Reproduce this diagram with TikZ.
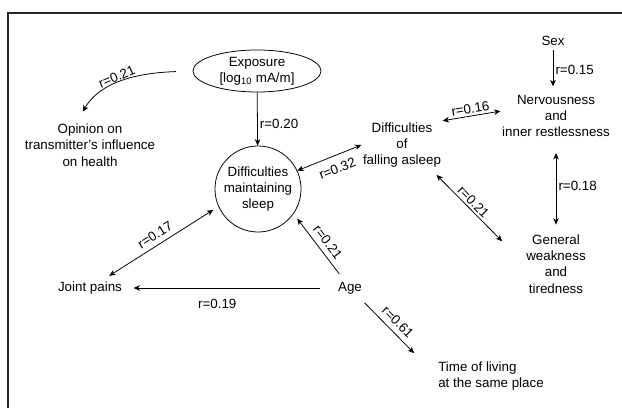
\documentclass[tikz,border=0pt]{standalone}
\usepackage{fontspec}
\setmainfont{Liberation Sans}
\usetikzlibrary{shapes.geometric,arrows.meta,positioning}
\tikzset{
  var text/.style={align=center, inner sep=1pt, font=\fontsize{9.5}{11.6}\selectfont},
  var circle/.style={circle, draw, line width=0.55pt, align=center, minimum size=2.15cm, inner sep=0pt, font=\fontsize{9.5}{11.6}\selectfont},
  var ellipse/.style={ellipse, draw, line width=0.55pt, align=center, minimum width=3.2cm, minimum height=1.05cm, inner sep=0pt, font=\fontsize{9.5}{11.6}\selectfont},
  corr/.style={-{Stealth[length=4.5pt,width=4pt,inset=1.3pt]}, line width=0.55pt},
  corr both/.style={{Stealth[length=4.5pt,width=4pt,inset=1.3pt]}-{Stealth[length=4.5pt,width=4pt,inset=1.3pt]}, line width=0.55pt},
  r value/.style={inner sep=1.5pt, font=\fontsize{9.5}{11.6}\selectfont}
}

\begin{document}
\begin{tikzpicture}[x=0.025cm, y=0.025cm]
    \useasboundingbox (0,0) rectangle (622,408);
    \draw [line width=0.9pt, black!85] (8,0) -- (8,395) -- (622,395);

    % variables
    \node [var ellipse] (expo) at (257,337) {Exposure\\{[}log\textsubscript{10} mA/m{]}};
    \node [var circle] (sleep) at (258,219) {Difficulties\\maintaining\\sleep};
    \node [var text] (opin) at (90,263) {Opinion on\\transmitter's influence\\on health};
    \node [var text] (fall) at (402,263) {Difficulties\\of\\falling asleep};
    \node [var text] (sex) at (553,367) {Sex};
    \node [var text] (nerv) at (556,292) {Nervousness\\and\\inner restlessness};
    \node [var text] (weak) at (556,144) {General\\weakness\\and\\tiredness};
    \node [var text] (age) at (350,120) {Age};
    \node [var text] (joint) at (90,120) {Joint pains};
    \node [var text, align=left] (time) at (491,32) {Time of living\\at the same place};

    % correlations
    \draw [corr] (expo) -- (sleep) node[r value, pos=0.6, right] {r=0.20};
    \draw [corr, shorten <=0.42cm, shorten >=0.3cm] (expo.west) to[out=182, in=60] node[r value, pos=0.55, sloped, above] {r=0.21} (opin.120);
    \draw [corr both] (sleep.25) -- (fall.west) node[r value, pos=0.55, sloped, below=4pt] {r=0.32};
    \draw [corr both] (fall.north east) -- (nerv.175) node[r value, midway, sloped, above] {r=0.16};
    \draw [corr, shorten <=2pt, shorten >=5pt] (sex.south) -- (sex.south |- nerv.north) node[r value, midway, right] {r=0.15};
    \draw [corr both, shorten <=0.36cm, shorten >=0.21cm] (nerv.south) -- (nerv.south |- weak.north) node[r value, midway, right] {r=0.18};
    \draw [corr both, shorten <=0.2cm, shorten >=0.8cm] (fall.-40) -- (weak.west) node[r value, pos=0.4, sloped, above] {r=0.21};
    \draw [corr, shorten <=0.2cm, shorten >=0.15cm] (age) -- (sleep.-35) node[r value, pos=0.48, sloped, above=2pt] {r=0.21};
    \draw [corr, shorten <=0.4cm, shorten >=0.25cm] (age) -- (joint) node[r value, pos=0.56, below=6pt] {r=0.19};
    \draw [corr both, shorten <=0.2cm, shorten >=0.15cm] (joint) -- (sleep.204) node[r value, midway, sloped, above=2pt] {r=0.17};
    \draw [corr, shorten <=0.25cm, shorten >=0.8cm] (age) -- (time.west) node[r value, pos=0.42, sloped, above=2pt] {r=0.61};
\end{tikzpicture}
\end{document}
